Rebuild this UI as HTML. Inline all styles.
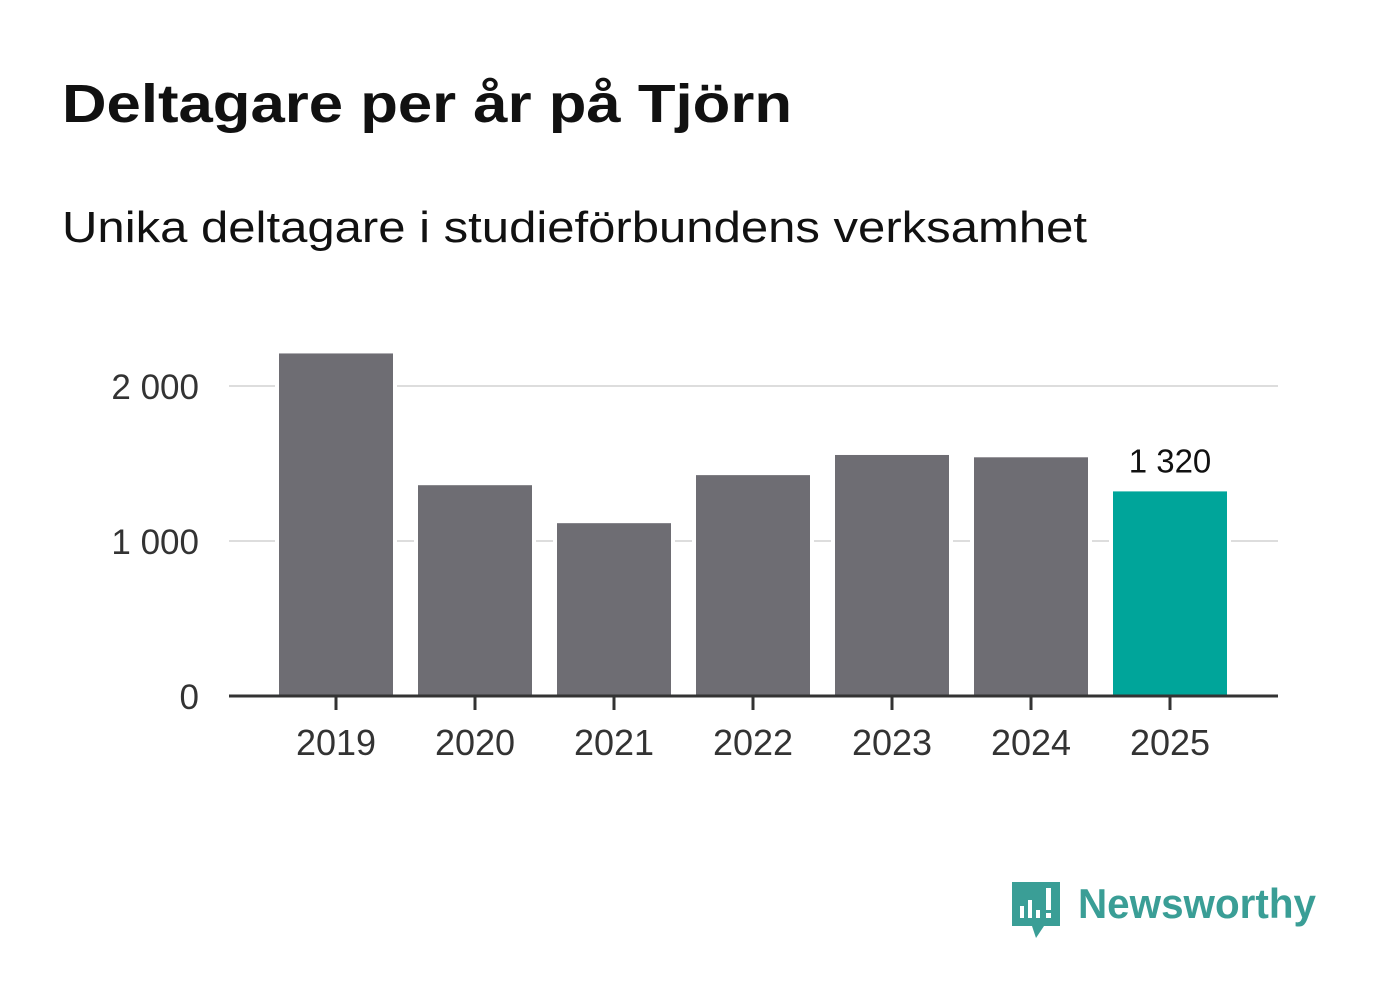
<!DOCTYPE html>
<html><head><meta charset="utf-8"><style>
body{margin:0;background:#fff;width:1382px;height:999px;overflow:hidden;font-family:"Liberation Sans",sans-serif}
</style></head><body>
<svg width="1382" height="999" xmlns="http://www.w3.org/2000/svg">
<text x="62" y="122" font-size="54" font-weight="bold" fill="#111" textLength="730" lengthAdjust="spacingAndGlyphs">Deltagare per år på Tjörn</text>
<text x="62" y="242" font-size="44" fill="#111" textLength="1025" lengthAdjust="spacingAndGlyphs">Unika deltagare i studieförbundens verksamhet</text>
<g id="grid"></g><g id="bars"></g><g id="axis"></g>
<g>
<path d="M1012 882 h48 v44 h-16 l-8 12 l-4 -12 h-20 z" fill="#3a9e96"/>
<rect x="1020" y="906" width="4" height="12" fill="#fff"/><rect x="1028" y="900" width="4" height="18" fill="#fff"/><rect x="1036" y="910" width="4" height="8" fill="#fff"/><rect x="1046" y="888" width="5" height="22" fill="#fff"/><rect x="1046" y="913" width="5" height="5" fill="#fff"/>
<text x="1078" y="918" font-size="42" font-weight="bold" fill="#3a9e96" textLength="238" lengthAdjust="spacingAndGlyphs">Newsworthy</text>
</g>
</svg>
<script>
const categories=["2019","2020","2021","2022","2023","2024","2025"];
const values=[2210,1360,1115,1425,1555,1540,1320];
const ticks=[0,1000,2000];
const tickLabels=["0","1 000","2 000"];
const ns="http://www.w3.org/2000/svg";
const y=v=>696-v*0.155;
const x=i=>336+i*139;
function mk(t,a,p){const e=document.createElementNS(ns,t);for(const k in a)e.setAttribute(k,a[k]);p.appendChild(e);return e;}
const g=document.getElementById('grid'),b=document.getElementById('bars'),ax=document.getElementById('axis');
ticks.forEach((t,i)=>{
 if(t>0){const l=mk('line',{x1:229,x2:1278,y1:y(t),y2:y(t),stroke:'#dddddd','stroke-width':2},g);
 
 }
 const tx=mk('text',{x:199,y:y(t)+13,'text-anchor':'end','font-size':35,fill:'#333'},ax);tx.textContent=tickLabels[i];
 
 
});
values.forEach((v,i)=>{
 const last=i===values.length-1;
 const r=mk('rect',{x:x(i)-57,y:y(v),width:114,height:y(0)-y(v),fill:last?'#00a59a':'#6e6d73',stroke:'#fff','stroke-width':8,'paint-order':'stroke'},b);
 
 
 const tk=mk('line',{x1:x(i),x2:x(i),y1:696,y2:710,stroke:'#333','stroke-width':3},ax);
 
 
 const t=mk('text',{x:x(i),y:755,'text-anchor':'middle','font-size':36,fill:'#333'},ax);t.textContent=categories[i];
 
 
 if(last){const lb=mk('text',{x:x(i),y:y(v)-19,'text-anchor':'middle','font-size':33,fill:'#111'},ax);lb.textContent=v.toLocaleString('sv-SE').replace(/\s/g,' ');
 
 }
});
const base=mk('line',{x1:229,x2:1278,y1:696,y2:696,stroke:'#333','stroke-width':3},ax);


</script>
</body></html>
